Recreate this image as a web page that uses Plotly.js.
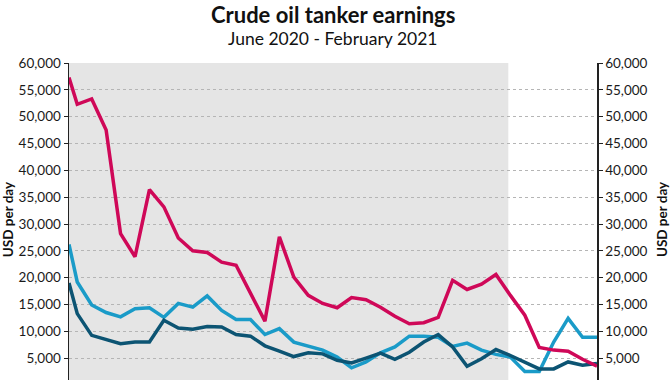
<!DOCTYPE html>
<html>
<head>
<meta charset="utf-8">
<script src="https://cdn.plot.ly/plotly-3.0.1.min.js"></script>
<style>
  html, body { margin: 0; padding: 0; background: #ffffff; }
  #wrap { width: 670px; height: 380px; overflow: hidden; position: relative; }
  #chart { width: 670px; height: 420px; }
</style>
</head>
<body>
<div id="wrap"><div id="chart"></div></div>
<script>
// Dates: first reading then weekly readings
const dates = ['2020-06-01','2020-06-05','2020-06-12','2020-06-19','2020-06-26','2020-07-03','2020-07-10','2020-07-17','2020-07-24','2020-07-31',
  '2020-08-07','2020-08-14','2020-08-21','2020-08-28','2020-09-04','2020-09-11','2020-09-18','2020-09-25','2020-10-02','2020-10-09',
  '2020-10-16','2020-10-23','2020-10-30','2020-11-06','2020-11-13','2020-11-20','2020-11-27','2020-12-04','2020-12-11','2020-12-18',
  '2020-12-25','2021-01-01','2021-01-08','2021-01-15','2021-01-22','2021-01-29','2021-02-05','2021-02-12'];

const seriesRed = [57300, 52300, 53300, 47500, 28200, 23900, 36400, 33200, 27400, 25000,
  24700, 22900, 22300, 17100, 11900, 27600, 20100, 16700, 15200, 14400,
  16300, 15900, 14500, 12800, 11400, 11600, 12600, 19500, 17800, 18800,
  20600, 16700, 13000, 7000, 6500, 6300, 4800, 3500];

const seriesLightBlue = [26200, 19200, 14900, 13500, 12700, 14200, 14400, 12600, 15200, 14500,
  16600, 13900, 12200, 12200, 9400, 10500, 8000, 7200, 6500, 5200,
  3200, 4300, 6000, 7100, 9100, 9100, 8900, 7200, 7800, 6500,
  5700, 5200, 2500, 2500, 8000, 12400, 8900, 8900];

const seriesDarkBlue = [19000, 13300, 9250, 8450, 7700, 8000, 8000, 12050, 10600, 10400,
  10900, 10800, 9400, 9100, 7300, 6300, 5300, 6000, 5800, 4600,
  4100, 5000, 5950, 4800, 6100, 8000, 9400, 7100, 3500, 4900,
  6600, 5500, 4300, 3000, 3000, 4300, 3700, 4000];

// y tick values visible in the picture (0 is cropped at the bottom edge)
const yTicks = [5000, 10000, 15000, 20000, 25000, 30000, 35000, 40000, 45000, 50000, 55000, 60000];

const shadeStart = '2020-06-01';
const shadeEnd = '2020-12-31';
const xStart = '2020-06-01';
const xEnd = '2021-02-12';

const titleText = 'Crude oil tanker earnings';
const subtitleText = 'June 2020 - February 2021';
const yTitle = 'USD per day';

const FONT = 'Lato, "Open Sans", sans-serif';

const traces = [
  { x: dates, y: seriesLightBlue, type: 'scatter', mode: 'lines', name: 'Suezmax',
    line: { color: '#1a9bc8', width: 3.5 }, hoverinfo: 'skip' },
  { x: dates, y: seriesDarkBlue, type: 'scatter', mode: 'lines', name: 'Aframax',
    line: { color: '#0c5473', width: 3.5 }, hoverinfo: 'skip' },
  { x: dates, y: seriesRed, type: 'scatter', mode: 'lines', name: 'VLCC', yaxis: 'y2',
    line: { color: '#cf0858', width: 3.5 }, hoverinfo: 'skip' }
];

const yCommon = {
  range: [0, 60000], tickmode: 'array', tickvals: yTicks, tickformat: ',d',
  showgrid: true, gridcolor: '#b5b5b5', griddash: 'dot', gridwidth: 1,
  zeroline: false, showline: true, linecolor: '#222', linewidth: 1.5,
  ticks: 'outside', ticklen: 4, tickcolor: '#222', tickwidth: 1,
  tickfont: { family: FONT, size: 13.5, color: '#1a1a1a' }, fixedrange: true
};

const layout = {
  width: 670, height: 420,
  margin: { l: 69, r: 73, t: 63, b: 35.4, pad: 0 },
  paper_bgcolor: '#ffffff', plot_bgcolor: '#ffffff',
  showlegend: false,
  font: { family: FONT, color: '#222' },
  xaxis: { type: 'date', range: [xStart, xEnd], showgrid: false, zeroline: false,
    showticklabels: false, showline: true, linecolor: '#222', fixedrange: true },
  yaxis: Object.assign({}, yCommon, { side: 'left' }),
  yaxis2: Object.assign({}, yCommon, { side: 'right', overlaying: 'y', showgrid: false }),
  shapes: [
    { type: 'rect', xref: 'x', yref: 'paper', x0: shadeStart, x1: shadeEnd, y0: 0, y1: 1,
      fillcolor: '#e5e5e5', line: { width: 0 }, layer: 'below' }
  ],
  annotations: [
    { text: '<b>' + titleText + '</b>', xref: 'paper', yref: 'paper', x: 0.5, y: 1.1953,
      xanchor: 'center', yanchor: 'top', showarrow: false, borderpad: 0,
      font: { family: FONT, size: 22, color: '#111' } },
    { text: subtitleText, xref: 'paper', yref: 'paper', x: 0.5, y: 1.1125,
      xanchor: 'center', yanchor: 'top', showarrow: false, borderpad: 0,
      font: { family: FONT, size: 17.5, color: '#111' } },
    { text: '<b>' + yTitle + '</b>', xref: 'paper', yref: 'paper', x: -0.1155, y: 0.515,
      xanchor: 'center', yanchor: 'middle', textangle: -90, showarrow: false,
      font: { family: FONT, size: 13.5, color: '#111' } },
    { text: '<b>' + yTitle + '</b>', xref: 'paper', yref: 'paper', x: 1.123, y: 0.515,
      xanchor: 'center', yanchor: 'middle', textangle: -90, showarrow: false,
      font: { family: FONT, size: 13.5, color: '#111' } }
  ]
};

Plotly.newPlot('chart', traces, layout, { staticPlot: true, displayModeBar: false });
</script>
</body>
</html>
